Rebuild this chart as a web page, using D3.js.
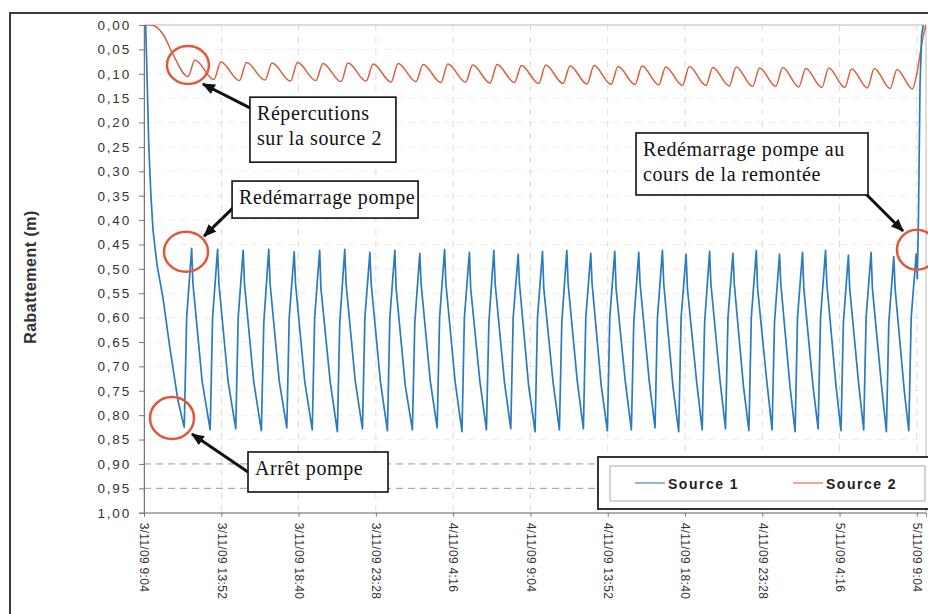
<!DOCTYPE html>
<html><head><meta charset="utf-8">
<script src="https://cdn.jsdelivr.net/npm/d3@7"></script>
<style>
html,body{margin:0;padding:0;background:#fff;}
svg{display:block;}
</style></head>
<body>
<svg id="chart" width="928" height="614"></svg>
<script>
// ---------- DATA ----------
// time in hours since 3/11/09 9:04, drawdown (rabattement) in metres
const xTickHours = [0, 4.8, 9.6, 14.4, 19.2, 24, 28.8, 33.6, 38.4, 43.2, 48];
const xTickLabels = ["3/11/09 9:04","3/11/09 13:52","3/11/09 18:40","3/11/09 23:28","4/11/09 4:16",
  "4/11/09 9:04","4/11/09 13:52","4/11/09 18:40","4/11/09 23:28","5/11/09 4:16","5/11/09 9:04"];
const yTickValues = [0,0.05,0.1,0.15,0.2,0.25,0.3,0.35,0.4,0.45,0.5,0.55,0.6,0.65,0.7,0.75,0.8,0.85,0.9,0.95,1];
const seriesNames = ["Source 1", "Source 2"];

const source1 = [
  [0.10,0.00],[0.20,0.12],[0.30,0.25],[0.43,0.35],[0.56,0.42],[0.80,0.49],[1.18,0.56],[1.60,0.66],[2.11,0.77],
  [2.50,0.825],[2.65,0.60],[2.96,0.458],[3.04,0.53],[3.61,0.73],
  [4.11,0.830],[4.26,0.60],[4.57,0.460],[4.65,0.53],[5.22,0.73],
  [5.70,0.828],[5.85,0.60],[6.16,0.462],[6.24,0.53],[6.81,0.73],
  [7.29,0.832],[7.44,0.61],[7.75,0.460],[7.83,0.53],[8.40,0.73],
  [8.87,0.826],[9.02,0.60],[9.33,0.465],[9.41,0.53],[9.98,0.73],
  [10.45,0.830],[10.60,0.60],[10.91,0.462],[10.99,0.54],[11.56,0.73],
  [12.01,0.834],[12.16,0.61],[12.47,0.460],[12.55,0.53],[13.12,0.73],
  [13.57,0.828],[13.72,0.60],[14.03,0.466],[14.11,0.53],[14.68,0.73],
  [15.12,0.832],[15.27,0.60],[15.58,0.462],[15.66,0.54],[16.23,0.74],
  [16.67,0.830],[16.82,0.61],[17.13,0.468],[17.21,0.53],[17.78,0.73],
  [18.21,0.826],[18.36,0.60],[18.67,0.460],[18.75,0.53],[19.32,0.73],
  [19.75,0.834],[19.90,0.60],[20.21,0.466],[20.29,0.54],[20.86,0.73],
  [21.27,0.830],[21.42,0.61],[21.73,0.462],[21.81,0.53],[22.38,0.73],
  [22.78,0.828],[22.93,0.60],[23.24,0.470],[23.32,0.53],[23.89,0.74],
  [24.29,0.834],[24.44,0.60],[24.75,0.464],[24.83,0.54],[25.40,0.73],
  [25.80,0.830],[25.95,0.61],[26.26,0.462],[26.34,0.53],[26.91,0.73],
  [27.29,0.828],[27.44,0.60],[27.75,0.468],[27.83,0.53],[28.40,0.74],
  [28.78,0.832],[28.93,0.60],[29.24,0.464],[29.32,0.54],[29.89,0.73],
  [30.27,0.830],[30.42,0.61],[30.73,0.466],[30.81,0.53],[31.38,0.73],
  [31.74,0.826],[31.89,0.60],[32.20,0.462],[32.28,0.53],[32.85,0.74],
  [33.21,0.834],[33.36,0.60],[33.67,0.470],[33.75,0.54],[34.32,0.73],
  [34.67,0.830],[34.82,0.61],[35.13,0.464],[35.21,0.53],[35.78,0.73],
  [36.12,0.828],[36.27,0.60],[36.58,0.468],[36.66,0.53],[37.23,0.74],
  [37.57,0.832],[37.72,0.60],[38.03,0.462],[38.11,0.54],[38.68,0.73],
  [39.01,0.830],[39.16,0.61],[39.47,0.470],[39.55,0.53],[40.12,0.74],
  [40.44,0.834],[40.59,0.60],[40.90,0.466],[40.98,0.54],[41.55,0.74],
  [41.87,0.828],[42.02,0.60],[42.33,0.462],[42.41,0.53],[42.98,0.74],
  [43.29,0.832],[43.44,0.61],[43.75,0.472],[43.83,0.54],[44.40,0.74],
  [44.70,0.830],[44.85,0.60],[45.16,0.466],[45.24,0.54],[45.81,0.74],
  [46.11,0.834],[46.26,0.61],[46.57,0.475],[46.65,0.54],[47.22,0.75],
  [47.50,0.832],[47.65,0.60],[47.96,0.470],[48.03,0.52],[48.10,0.40],[48.20,0.12],[48.30,0.02],[48.40,0.00]
];

const source2 = [
  [0.00,0.000],[0.40,0.000],[0.80,0.005],[1.20,0.020],[1.80,0.060],[2.73,0.106],
  [3.16,0.072],[4.34,0.112],[4.77,0.076],[5.93,0.114],[6.36,0.077],[7.52,0.113],
  [7.95,0.078],[9.10,0.115],[9.53,0.077],[10.68,0.114],[11.11,0.079],[12.24,0.116],
  [12.67,0.078],[13.80,0.115],[14.23,0.080],[15.35,0.117],[15.78,0.079],[16.90,0.116],
  [17.33,0.081],[18.44,0.118],[18.87,0.080],[19.98,0.117],[20.41,0.082],[21.50,0.119],
  [21.93,0.081],[23.01,0.118],[23.44,0.083],[24.52,0.120],[24.95,0.082],[26.03,0.120],
  [26.46,0.084],[27.52,0.121],[27.95,0.083],[29.01,0.122],[29.44,0.085],[30.50,0.122],
  [30.93,0.084],[31.97,0.123],[32.40,0.086],[33.44,0.124],[33.87,0.085],[34.90,0.124],
  [35.33,0.087],[36.35,0.125],[36.78,0.086],[37.80,0.126],[38.23,0.088],[39.24,0.126],
  [39.67,0.087],[40.67,0.127],[41.10,0.089],[42.10,0.128],[42.53,0.088],[43.52,0.128],
  [43.95,0.090],[44.93,0.129],[45.36,0.089],[46.34,0.130],[46.77,0.091],[47.73,0.131],
  [48.00,0.100],[48.25,0.050],[48.45,0.015],[48.57,0.000]
];

// annotations (anchor positions in data units: hours, metres)
const circleNotes = [
  {t:2.73, v:0.082, rx:21, ry:19},
  {t:2.61, v:0.465, rx:22, ry:20},
  {t:1.74, v:0.806, rx:22, ry:21},
  {t:48.01, v:0.461, rx:20, ry:20}
];
const boxNotes = [
  {t:6.58, v:0.148, w:146, h:65, lines:["Répercutions","sur la source 2"]},
  {t:5.47, v:0.320, w:186, h:37, lines:["Redémarrage pompe"]},
  {t:30.56, v:0.2214, w:232, h:62, lines:["Redémarrage pompe au","cours de la remontée"]},
  {t:6.46, v:0.8755, w:140, h:40, lines:["Arrêt pompe"]}
];
const arrowNotes = [
  {t0:6.58, v0:0.170, t1:3.66, v1:0.121},
  {t0:5.53, v0:0.375, t1:3.73, v1:0.433},
  {t0:6.46, v0:0.9166, t1:2.98, v1:0.8386},
  {t0:44.84, v0:0.3465, t1:47.14, v1:0.4224}
];

// ---------- CHART ----------
const colors = ["#2b7bbd", "#d9603f"];
const svg = d3.select("#chart");
const L = 144, R = 926, T = 25, B = 512.7;

const x = d3.scaleLinear().domain([0, 48.57]).range([L, R]);
const y = d3.scaleLinear().domain([0, 1]).range([T, B]);

// outer frame
svg.append("rect").attr("x",10).attr("y",13).attr("width",940).attr("height",620)
  .attr("fill","none").attr("stroke","#3a3a3a").attr("stroke-width",2);

// plot border
svg.append("rect").attr("x",L).attr("y",T).attr("width",R-L).attr("height",B-T)
  .attr("fill","none").attr("stroke","#b8b8b8").attr("stroke-width",1);

// gridlines
svg.append("g").selectAll("line").data(yTickValues.filter(d => d > 0 && d < 1)).join("line")
  .attr("x1",L).attr("x2",R).attr("y1",d=>y(d)).attr("y2",d=>y(d))
  .attr("stroke", d => d >= 0.89 ? "#9a9a9a" : "#efefef")
  .attr("stroke-dasharray","7,5").attr("stroke-width",1);
svg.append("g").selectAll("line").data(xTickHours.filter(d => d > 0)).join("line")
  .attr("x1",d=>x(d)).attr("x2",d=>x(d)).attr("y1",T).attr("y2",B)
  .attr("stroke","#dcdcdc").attr("stroke-dasharray","6,6").attr("stroke-width",1);

// lines
svg.append("clipPath").attr("id","clip").append("rect")
  .attr("x",L).attr("y",T).attr("width",R-L).attr("height",B-T);
const plot = svg.append("g").attr("clip-path","url(#clip)");
const line1 = d3.line().x(d=>x(d[0])).y(d=>y(d[1]));
const line2 = d3.line().x(d=>x(d[0])).y(d=>y(d[1])).curve(d3.curveMonotoneX);
plot.append("path").datum(source2).attr("d",line2).attr("fill","none")
  .attr("stroke",colors[1]).attr("stroke-width",1.5);
plot.append("path").datum(source1).attr("d",line1).attr("fill","none")
  .attr("stroke",colors[0]).attr("stroke-width",1.7).attr("stroke-linejoin","round");

// y axis
const yAxis = d3.axisLeft(y).tickValues(yTickValues).tickSize(5).tickPadding(8)
  .tickFormat(d => d3.format(".2f")(d).replace(".", ","));
const gy = svg.append("g").attr("transform",`translate(${L},0)`).call(yAxis);
gy.select(".domain").attr("stroke","#777");
gy.selectAll(".tick line").attr("stroke","#777");
gy.selectAll(".tick text").attr("fill","#333").style("font-family","'Liberation Sans', Arial, sans-serif")
  .style("font-size","13.5px").style("letter-spacing","1.8px");

// x axis
const xAxis = d3.axisBottom(x).tickValues(xTickHours).tickSize(4).tickFormat((d,i)=>xTickLabels[i]);
const gx = svg.append("g").attr("transform",`translate(0,${B})`).call(xAxis);
gx.select(".domain").attr("stroke","#888");
gx.selectAll(".tick line").attr("stroke","#777");
gx.selectAll(".tick text").attr("fill","#333")
  .style("font-family","'Liberation Sans', Arial, sans-serif").style("font-size","12px")
  .style("letter-spacing","0.3px")
  .attr("text-anchor","start").attr("dy","0.35em").attr("y",0).attr("x",0)
  .attr("transform","translate(0,10) rotate(90)");

// y axis title
svg.append("text").attr("transform","translate(36,277) rotate(-90)")
  .attr("text-anchor","middle").attr("fill","#333")
  .style("font-family","'Liberation Sans', Arial, sans-serif").style("font-size","16px")
  .style("font-weight","bold").style("letter-spacing","0.5px")
  .text("Rabattement (m)");

// legend
const lg = svg.append("g");
lg.append("rect").attr("x",598).attr("y",457).attr("width",340).attr("height",52)
  .attr("fill","#fff").attr("stroke","#333").attr("stroke-width",2);
lg.append("rect").attr("x",610).attr("y",466).attr("width",315).attr("height",35)
  .attr("fill","#fff").attr("stroke","#aaa").attr("stroke-width",1);
const legX = [635, 793];
seriesNames.forEach((n,i)=>{
  lg.append("line").attr("x1",legX[i]).attr("x2",legX[i]+30).attr("y1",483).attr("y2",483)
    .attr("stroke",colors[i]).attr("stroke-width",1.5).attr("opacity",0.7);
  lg.append("text").attr("x",legX[i]+33).attr("y",489).attr("fill","#222")
    .style("font-family","'Liberation Sans', Arial, sans-serif").style("font-size","14px")
    .style("font-weight","bold").style("letter-spacing","1.5px").text(n);
});

// annotations
svg.append("defs").append("marker").attr("id","arr").attr("viewBox","0 0 12 10")
  .attr("refX",11).attr("refY",5).attr("markerWidth",13).attr("markerHeight",11)
  .attr("markerUnits","userSpaceOnUse").attr("orient","auto")
  .append("path").attr("d","M0,0 L12,5 L0,10 z").attr("fill","#111");

const an = svg.append("g");
an.selectAll("ellipse").data(circleNotes).join("ellipse")
  .attr("cx",d=>x(d.t)).attr("cy",d=>y(d.v)).attr("rx",d=>d.rx).attr("ry",d=>d.ry)
  .attr("fill","none").attr("stroke","#e2573c").attr("stroke-width",2.5);

an.selectAll("line.arrow").data(arrowNotes).join("line").attr("class","arrow")
  .attr("x1",d=>x(d.t0)).attr("y1",d=>y(d.v0)).attr("x2",d=>x(d.t1)).attr("y2",d=>y(d.v1))
  .attr("stroke","#111").attr("stroke-width",3).attr("marker-end","url(#arr)");

boxNotes.forEach(b=>{
  const bx = x(b.t), by = y(b.v);
  an.append("rect").attr("x",bx).attr("y",by).attr("width",b.w).attr("height",b.h)
    .attr("fill","#fff").attr("stroke","#111").attr("stroke-width",1.6);
  b.lines.forEach((s,i)=>{
    an.append("text").attr("x",bx+7).attr("y",by+23+i*25).attr("fill","#111")
      .style("font-family","'Liberation Serif', 'Times New Roman', serif").style("font-size","20px")
      .style("letter-spacing","0.6px").text(s);
  });
});
</script>
</body></html>
